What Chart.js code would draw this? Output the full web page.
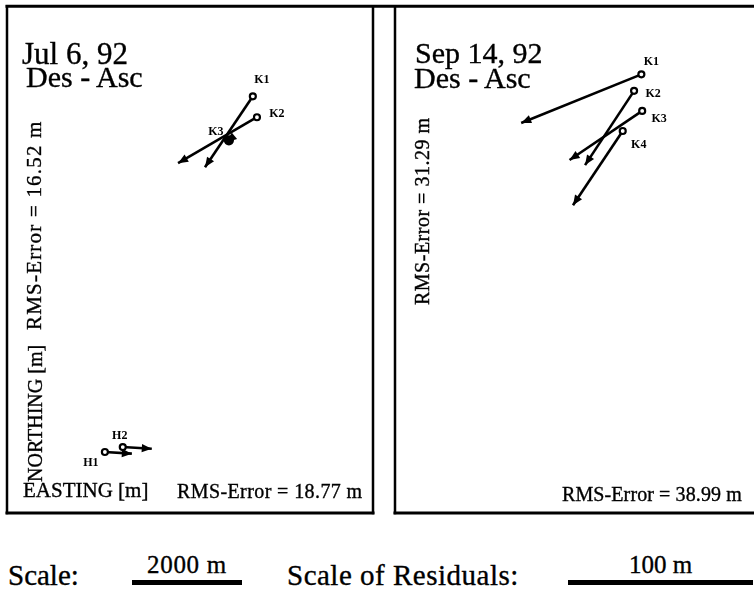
<!DOCTYPE html>
<html>
<head>
<meta charset="utf-8">
<title>Des - Asc residuals</title>
<script src="https://cdn.jsdelivr.net/npm/chart.js@4.4.0/dist/chart.umd.min.js"></script>
<style>
  body { margin: 0; background: #fff; }
  #wrap { position: relative; width: 754px; height: 590px; overflow: hidden;
          font-family: "Liberation Serif", "DejaVu Serif", serif; color: #000; }
  canvas { position: absolute; top: 0; }
  #c1 { left: 0; }
  #c2 { left: 380px; }
  .t { position: absolute; white-space: nowrap; line-height: 1; -webkit-text-stroke: 0.35px #000; }
  .bar { position: absolute; background: #000; height: 5px; top: 580px; }
</style>
</head>
<body>
<div id="wrap">
  <canvas id="c1" width="380" height="520"></canvas>
  <canvas id="c2" width="374" height="520"></canvas>
  <div class="bar" id="mapBar" style="left:132px"></div>
  <div class="bar" id="resBar" style="left:568px"></div>
</div>
<script>
// Jul 6, 92 -- station positions (m, from lower-left of frame) and residuals (m)
const julStations = ['K1', 'K2', 'K3', 'H1', 'H2'];
const julEast  = [4470, 4545, 4035, 1780, 2105];
const julNorth = [7580, 7200, 6780, 1110, 1200];
const julResE  = [-25.9, -42.7, -1.2, 14.6, 15.7];
const julResN  = [-38.4, -24.9, -1.0, -0.9, -0.9];
const julRmsN = 16.52;
const julRmsE = 18.77;

// Sep 14, 92
const sepStations = ['K1', 'K2', 'K3', 'K4'];
const sepEast  = [4560, 4425, 4575, 4215];
const sepNorth = [7980, 7680, 7315, 6950];
const sepResE  = [-66.2, -27.0, -40.0, -27.4];
const sepResN  = [-26.3, -40.2, -26.6, -40.2];
const sepRmsN = 31.29;
const sepRmsE = 38.99;

// map extents (m) and scale bars
const julExtentE = [0, 6655];
const sepExtentE = [0, 6530];
const extentN = [0, 9220];
const mapScaleM = 2000;     // scale bar, map metres
const resScaleM = 100;      // scale bar, residual metres
const resExag = 33.6;       // 1 m residual drawn as 33.6 m on the map

const INK = '#000';

// label offsets (px) from each station dot
const julLabelOff = { K1: [9, -16], K2: [20, -3], K3: [-13, -8], H1: [-14, 11], H2: [-3, -11] };
const sepLabelOff = { K1: [10, -12], K2: [19, 3], K3: [17, 8], K4: [16, 14] };

const vectorPlugin = {
  id: 'vectors',
  afterDatasetsDraw(chart, args, opts) {
    const ctx = chart.ctx;
    ctx.save();
    ctx.fillStyle = INK;
    chart.data.datasets.forEach((ds, i) => {
      const pts = chart.getDatasetMeta(i).data;
      const a = pts[0], b = pts[1];
      const ang = Math.atan2(b.y - a.y, b.x - a.x);
      const L = 10, W = 4.2;
      const cx = b.x - L * Math.cos(ang), cy = b.y - L * Math.sin(ang);
      ctx.beginPath();
      ctx.moveTo(b.x, b.y);
      ctx.lineTo(cx + W * Math.sin(ang), cy - W * Math.cos(ang));
      ctx.lineTo(cx - W * Math.sin(ang), cy + W * Math.cos(ang));
      ctx.closePath();
      ctx.fill();
      // station name
      const off = opts.labelOff[ds.label] || [0, 0];
      ctx.font = 'bold 12px "Liberation Serif", serif';
      ctx.textAlign = 'center';
      ctx.textBaseline = 'middle';
      ctx.fillText(ds.label, a.x + off[0], a.y + off[1]);
    });
    ctx.restore();
  },
  afterDraw(chart, args, opts) {
    const ctx = chart.ctx, ca = chart.chartArea;
    ctx.save();
    ctx.strokeStyle = INK;
    ctx.lineCap = 'square';
    ctx.lineWidth = 3;
    ctx.beginPath();
    ctx.moveTo(opts.topFrom, ca.top); ctx.lineTo(opts.topTo, ca.top);
    ctx.moveTo(ca.left, ca.bottom); ctx.lineTo(opts.bottomTo, ca.bottom);
    ctx.stroke();
    ctx.lineWidth = 2.5;
    ctx.beginPath();
    ctx.moveTo(ca.left, ca.top); ctx.lineTo(ca.left, ca.bottom);
    if (opts.rightSide) { ctx.moveTo(ca.right, ca.top); ctx.lineTo(ca.right, ca.bottom); }
    ctx.stroke();
    ctx.restore();
  }
};

function makePanel(id, stations, east, north, resE, resN, extE, padding, labelOff, frame, filled) {
  const datasets = stations.map((s, i) => ({
    label: s,
    data: [
      { x: east[i], y: north[i] },
      { x: east[i] + resE[i] * resExag, y: north[i] + resN[i] * resExag }
    ],
    showLine: true,
    borderColor: INK,
    borderWidth: 2.6,
    pointRadius: [filled[s] ? 4 : 3, 0],
    pointBorderWidth: 2.2,
    pointBorderColor: INK,
    pointBackgroundColor: filled[s] ? INK : '#fff'
  }));
  return new Chart(document.getElementById(id), {
    type: 'scatter',
    data: { datasets },
    options: {
      responsive: false,
      animation: false,
      events: [],
      layout: { padding },
      plugins: {
        legend: { display: false },
        tooltip: { enabled: false },
        vectors: Object.assign({ labelOff }, frame)
      },
      scales: {
        x: { type: 'linear', min: extE[0], max: extE[1], display: false },
        y: { type: 'linear', min: extentN[0], max: extentN[1], display: false }
      }
    },
    plugins: [vectorPlugin]
  });
}

const julChart = makePanel('c1', julStations, julEast, julNorth, julResE, julResN, julExtentE,
  { left: 7, top: 6, right: 7, bottom: 7 }, julLabelOff,
  { topFrom: 7, topTo: 380, bottomTo: 373, rightSide: true }, { K3: true });
const sepChart = makePanel('c2', sepStations, sepEast, sepNorth, sepResE, sepResN, sepExtentE,
  { left: 15, top: 6, right: 0, bottom: 7 }, sepLabelOff,
  { topFrom: 0, topTo: 374, bottomTo: 374, rightSide: false }, {});

// scale bars from the chart's own x scale
const xs = julChart.scales.x;
const mapBarW = xs.getPixelForValue(mapScaleM) - xs.getPixelForValue(0);
const resBarW = xs.getPixelForValue(resScaleM * resExag) - xs.getPixelForValue(0);
document.getElementById('mapBar').style.width = mapBarW + 'px';
document.getElementById('resBar').style.width = resBarW + 'px';

// text, placed by baseline
const wrap = document.getElementById('wrap');
function txt(s, x, base, size, opt = {}) {
  const d = document.createElement('div');
  d.className = 't';
  d.textContent = s;
  d.style.fontSize = size + 'px';
  if (opt.ls) d.style.letterSpacing = opt.ls + 'px';
  if (opt.rot) {
    // rotated -90deg: x = baseline column, base = start (bottom) of text
    d.style.left = (x - 0.8375 * size) + 'px';
    d.style.top = base + 'px';
    d.style.transformOrigin = '0 0';
    d.style.transform = 'rotate(-90deg)';
  } else {
    d.style.left = x + 'px';
    d.style.top = (base - 0.8375 * size) + 'px';
  }
  wrap.appendChild(d);
  if (opt.center) d.style.left = (x - d.offsetWidth / 2) + 'px';
  return d;
}

txt('Jul 6, 92', 22, 64, 31);
txt('Des - Asc', 26, 87, 30);
txt('Sep 14, 92', 415, 63, 30);
txt('Des - Asc', 414, 88, 30);

txt('NORTHING [m]', 42, 482, 20, { rot: true });
txt('RMS-Error = ' + julRmsN.toFixed(2) + ' m', 42, 330, 21, { rot: true, ls: 1.2 });
txt('RMS-Error = ' + sepRmsN.toFixed(2) + ' m', 429, 305, 20, { rot: true, ls: 0.5 });

txt('EASTING [m]', 23, 498, 21);
txt('RMS-Error = ' + julRmsE.toFixed(2) + ' m', 177, 498, 20, { ls: 0.4 });
txt('RMS-Error = ' + sepRmsE.toFixed(2) + ' m', 562, 501, 20, { ls: 0.1 });

txt('Scale:', 8, 585, 29);
txt(mapScaleM + ' m', 132 + mapBarW / 2, 573, 25, { center: true, ls: 0.7 });
txt('Scale of Residuals:', 287, 585, 29, { ls: 0.5 });
txt(resScaleM + ' m', 568 + resBarW / 2, 573, 25, { center: true });
</script>
</body>
</html>
